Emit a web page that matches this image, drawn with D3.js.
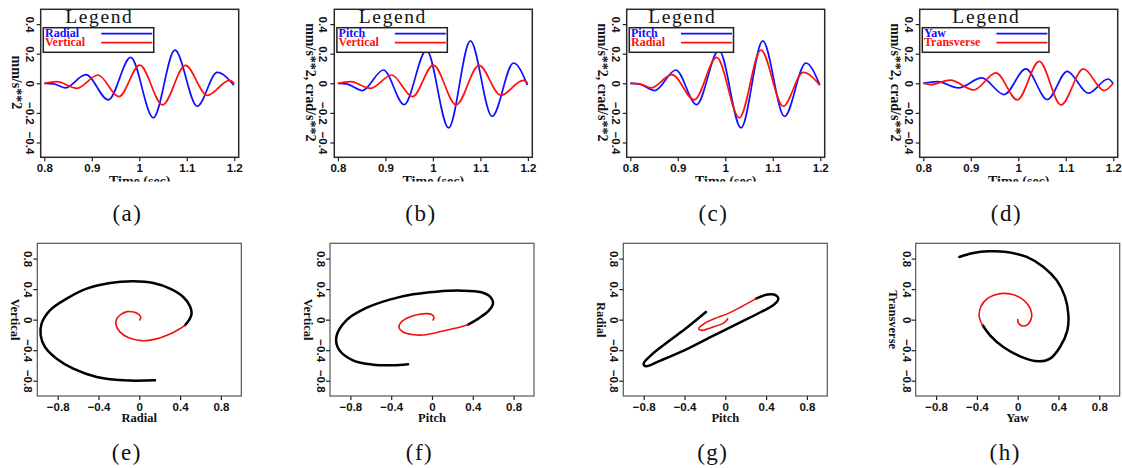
<!DOCTYPE html>
<html><head><meta charset="utf-8">
<script src="https://cdn.jsdelivr.net/npm/d3@7"></script>
<style>
body{margin:0;background:#fff;}
svg{display:block;}
</style></head><body>
<svg id="fig" width="1122" height="468"></svg>
<script>
// ---------- tick values and labels ----------
const timeTicks = [0.8, 0.9, 1.0, 1.1, 1.2];
const timeTickLabels = ["0.8", "0.9", "1", "1.1", "1.2"];
const ampTicks = [0.4, 0.2, 0, -0.2, -0.4];
const ampTickLabels = ["0.4", "0.2", "0", "\u22120.2", "\u22120.4"];
const hodoTicks = [-0.8, -0.4, 0, 0.4, 0.8];
const hodoTickLabels = ["\u22120.8", "\u22120.4", "0", "0.4", "0.8"];

// ---------- waveform samples: [time (s), amplitude] ----------
const radialTrace = [[0.8,0],[0.82,-0.004],[0.8435,-0.031],[0.8877,0.058],[0.9347,-0.112],[0.9818,0.175],[1.0295,-0.233],[1.075,0.224],[1.122,-0.155],[1.164,0.074],[1.199,-0.012]];
const verticalTrace = [[0.8,0],[0.826,0.011],[0.869,-0.034],[0.913,0.056],[0.957,-0.09],[1.001,0.123],[1.049,-0.146],[1.097,0.121],[1.143,-0.081],[1.19,0.02],[1.2,0]];
const pitchTrace = [[0.8,0],[0.82,-0.006],[0.8514,-0.049],[0.8958,0.09],[0.9394,-0.144],[0.9866,0.224],[1.0331,-0.301],[1.0789,0.287],[1.1246,-0.224],[1.1697,0.137],[1.199,-0.012]];
const yawTrace = [[0.8,0],[0.83,0.011],[0.874,-0.031],[0.923,0.036],[0.97,-0.076],[1.0158,0.097],[1.0613,-0.11],[1.103,0.081],[1.1475,-0.067],[1.189,0.029],[1.2,-0.003]];
const transverseTrace = [[0.8,0],[0.815,-0.009],[0.857,0.022],[0.906,-0.045],[0.953,0.07],[0.998,-0.112],[1.044,0.148],[1.09,-0.146],[1.137,0.097],[1.181,-0.049],[1.2,0]];

// ---------- particle-motion samples: [horizontal comp, vertical comp] ----------
// early part (red) then late part (black)
const radialVerticalEarly = [[0.003,-0.004],[0.015,0.03],[-0.005,0.07],[-0.055,0.1],[-0.12,0.105],[-0.18,0.07],[-0.222,0.01],[-0.228,-0.07],[-0.19,-0.16],[-0.11,-0.235],[0.02,-0.275],[0.16,-0.255],[0.29,-0.195],[0.39,-0.125],[0.448,-0.074]];
const radialVerticalLate = [[0.448,-0.074],[0.49,0],[0.513,0.079],[0.497,0.175],[0.431,0.297],[0.301,0.406],[0.137,0.48],[-0.059,0.502],[-0.288,0.48],[-0.516,0.406],[-0.712,0.275],[-0.876,0.122],[-0.958,-0.052],[-0.967,-0.205],[-0.925,-0.358],[-0.81,-0.511],[-0.647,-0.642],[-0.418,-0.751],[-0.157,-0.795],[0.154,-0.795]];
const pitchVerticalEarly = [[0.01,-0.005],[0.02,0.03],[-0.007,0.07],[-0.056,0.079],[-0.121,0.07],[-0.219,0.035],[-0.301,-0.031],[-0.324,-0.105],[-0.284,-0.162],[-0.186,-0.197],[-0.056,-0.197],[0.108,-0.148],[0.239,-0.109],[0.353,-0.066]];
const pitchVerticalLate = [[0.353,-0.066],[0.467,0.026],[0.559,0.122],[0.598,0.21],[0.572,0.297],[0.484,0.358],[0.288,0.38],[0.042,0.367],[-0.186,0.332],[-0.415,0.262],[-0.644,0.153],[-0.84,-0.009],[-0.938,-0.227],[-0.912,-0.393],[-0.775,-0.533],[-0.578,-0.59],[-0.382,-0.598],[-0.235,-0.585]];
const pitchRadialEarly = [[0.023,0.009],[0.007,-0.017],[-0.026,-0.052],[-0.141,-0.105],[-0.222,-0.14],[-0.261,-0.118],[-0.206,-0.052],[-0.108,0.013],[0.023,0.079],[0.154,0.166],[0.301,0.275]];
const pitchRadialLate = [[0.301,0.275],[0.415,0.328],[0.497,0.319],[0.52,0.275],[0.48,0.201],[0.35,0.1],[0.121,-0.052],[-0.141,-0.227],[-0.402,-0.402],[-0.631,-0.533],[-0.778,-0.611],[-0.801,-0.576],[-0.729,-0.467],[-0.565,-0.293],[-0.369,-0.096],[-0.19,0.1]];
const yawTransverseEarly = [[0,0],[0.007,-0.044],[0.039,-0.079],[0.088,-0.074],[0.127,-0.009],[0.137,0.079],[0.105,0.188],[0.039,0.275],[-0.059,0.332],[-0.173,0.341],[-0.288,0.284],[-0.363,0.166],[-0.376,0.035],[-0.343,-0.074]];
const yawTransverseLate = [[-0.343,-0.074],[-0.271,-0.205],[-0.141,-0.358],[0.023,-0.48],[0.203,-0.546],[0.317,-0.511],[0.415,-0.358],[0.487,-0.14],[0.497,0.057],[0.464,0.297],[0.382,0.515],[0.252,0.69],[0.088,0.821],[-0.108,0.886],[-0.288,0.895],[-0.435,0.873],[-0.572,0.821]];

// ---------- labels ----------
const traceLegends = [["Radial","Vertical"],["Pitch","Vertical"],["Pitch","Radial"],["Yaw","Transverse"]];
const traceYLabels = ["mm/s**2","mm/s**2, crad/s**2","mm/s**2, crad/s**2","mm/s**2, crad/s**2"];
const traceXLabel = "Time (sec)";
const hodoXLabels = ["Radial","Pitch","Pitch","Yaw"];
const hodoYLabels = ["Vertical","Vertical","Radial","Transverse"];
const topCaptions = ["(a)","(b)","(c)","(d)"];
const bottomCaptions = ["(e)","(f)","(g)","(h)"];

// ---------- drawing ----------
const svg = d3.select("#fig");
const defs = svg.append("defs");
const TICK_FONT = "'Liberation Sans', Arial, sans-serif";
const SERIF = "'Liberation Serif', 'Times New Roman', serif";

function rotateYTicks(axisG, offset) {
  axisG.selectAll(".tick text")
    .attr("x", null).attr("y", null).attr("dy", "0.35em")
    .attr("text-anchor", "middle")
    .attr("transform", `translate(${-offset},0) rotate(90)`);
}
function styleAxis(axisG) {
  axisG.select(".domain").remove();
  axisG.selectAll(".tick line").attr("stroke", "#222").attr("stroke-width", 1.2);
  axisG.selectAll(".tick text").attr("fill", "#111")
    .style("font-family", TICK_FONT).style("font-weight", "bold").style("font-size", "11.5px");
}

// --- top row: waveforms ---
const topLefts = [40.7, 334.3, 626.7, 919.7];
const TOP = {y: 9.3, w: 198, h: 148};
const tracePairs = [[radialTrace, verticalTrace],[pitchTrace, verticalTrace],[pitchTrace, radialTrace],[yawTrace, transverseTrace]];
const traceColors = ["#1010ff", "#ff1010"];

tracePairs.forEach((pair, i) => {
  const g = svg.append("g").attr("transform", `translate(${topLefts[i]},${TOP.y})`);
  const x = d3.scaleLinear().domain([0.7924, 1.2093]).range([0, TOP.w]);
  const y = d3.scaleLinear().domain([-0.5, 0.5]).range([TOP.h, 0]);
  const cid = "clipTop" + i;
  defs.append("clipPath").attr("id", cid).append("rect")
    .attr("x", 0).attr("y", 0).attr("width", TOP.w).attr("height", TOP.h);

  const line = d3.line().x(d => x(d[0])).y(d => y(d[1])).curve(d3.curveMonotoneX);
  pair.forEach((s, k) => {
    g.append("path").attr("d", line(s)).attr("fill", "none")
      .attr("stroke", traceColors[k]).attr("stroke-width", 1.7)
      .attr("clip-path", `url(#${cid})`);
  });

  g.append("rect").attr("width", TOP.w).attr("height", TOP.h)
    .attr("fill", "none").attr("stroke", "#2a2a2a").attr("stroke-width", 1.5);

  const xa = g.append("g").attr("transform", `translate(0,${TOP.h})`)
    .call(d3.axisBottom(x).tickValues(timeTicks).tickSize(4)
      .tickFormat((d, j) => timeTickLabels[j]));
  styleAxis(xa);
  const ya = g.append("g")
    .call(d3.axisLeft(y).tickValues(ampTicks).tickSize(4)
      .tickFormat((d, j) => ampTickLabels[j]));
  styleAxis(ya);
  rotateYTicks(ya, 11);

  // axis titles
  g.append("text")
    .attr("transform", `translate(-23.5,${TOP.h / 2 - 1}) rotate(90)`)
    .attr("text-anchor", "middle").attr("dy", "0.35em")
    .style("font-family", SERIF).style("font-weight", "bold").style("font-size", "14px")
    .attr("fill", "#111").text(traceYLabels[i]);
  const xcid = "clipXLab" + i;
  defs.append("clipPath").attr("id", xcid).append("rect")
    .attr("x", -20).attr("y", 0).attr("width", TOP.w + 40).attr("height", 172.3);
  g.append("text").attr("x", TOP.w / 2).attr("y", 176.7)
    .attr("text-anchor", "middle")
    .attr("clip-path", `url(#${xcid})`)
    .style("font-family", SERIF).style("font-weight", "bold").style("font-size", "14px")
    .attr("fill", "#111").text(traceXLabel);

  // legend
  const names = traceLegends[i];
  const lg = g.append("g");
  const boxX = 2.6, boxY = 18.4, boxH = 24.6;
  const texts = names.map((n, k) => lg.append("text")
    .attr("x", boxX + 1.7).attr("y", 27.8 + k * 9.4)
    .style("font-family", SERIF).style("font-weight", "bold").style("font-size", "12px")
    .attr("fill", traceColors[k]).text(n));
  const tw = d3.max(texts, t => t.node().getComputedTextLength());
  const lineX0 = boxX + 1.7 + tw + 16;
  const lineX1 = lineX0 + 51;
  names.forEach((n, k) => {
    lg.append("line").attr("x1", lineX0).attr("x2", lineX1)
      .attr("y1", 24.4 + k * 9).attr("y2", 24.4 + k * 9)
      .attr("stroke", traceColors[k]).attr("stroke-width", 1.7);
  });
  const boxW = lineX1 + 1.5 - boxX;
  lg.insert("rect", ":first-child").attr("x", boxX).attr("y", boxY)
    .attr("width", boxW).attr("height", boxH)
    .attr("fill", "#fff").attr("stroke", "#222").attr("stroke-width", 1.5);
  g.append("text").attr("x", boxX + boxW / 2 + 0.8).attr("y", 13.2)
    .attr("text-anchor", "middle")
    .style("font-family", SERIF).style("font-size", "19.5px").style("letter-spacing", "1.6px")
    .attr("fill", "#111").text("Legend");

  // caption
  svg.append("text").attr("x", topLefts[i] + 86.7).attr("y", 221)
    .attr("text-anchor", "middle")
    .style("font-family", SERIF).style("font-size", "23px").style("letter-spacing", "1.5px")
    .attr("fill", "#111").text(topCaptions[i]);
});

// --- bottom row: particle motion ---
const botLefts = [37.3, 330, 623.3, 915.7];
const BOT = {y: 243.3, w: 204, h: 152.7};
const hodoPairs = [[radialVerticalEarly, radialVerticalLate],[pitchVerticalEarly, pitchVerticalLate],[pitchRadialEarly, pitchRadialLate],[yawTransverseEarly, yawTransverseLate]];

hodoPairs.forEach((pair, i) => {
  const g = svg.append("g").attr("transform", `translate(${botLefts[i]},${BOT.y})`);
  const x = d3.scaleLinear().domain([-1, 1]).range([0, BOT.w]);
  const y = d3.scaleLinear().domain([-1, 1]).range([BOT.h, 0]);
  const line = d3.line().x(d => x(d[0])).y(d => y(d[1])).curve(d3.curveCatmullRom.alpha(0.5));

  g.append("path").attr("d", line(pair[1])).attr("fill", "none")
    .attr("stroke", "#000").attr("stroke-width", 2.5).attr("stroke-linecap", "round");
  g.append("path").attr("d", line(pair[0])).attr("fill", "none")
    .attr("stroke", "#f01010").attr("stroke-width", 1.6).attr("stroke-linecap", "round");

  g.append("rect").attr("width", BOT.w).attr("height", BOT.h)
    .attr("fill", "none").attr("stroke", "#555").attr("stroke-width", 1.2);

  const xa = g.append("g").attr("transform", `translate(0,${BOT.h})`)
    .call(d3.axisBottom(x).tickValues(hodoTicks).tickSize(4)
      .tickFormat((d, j) => hodoTickLabels[j]));
  styleAxis(xa);
  const ya = g.append("g")
    .call(d3.axisLeft(y).tickValues(hodoTicks).tickSize(4)
      .tickFormat((d, j) => hodoTickLabels[j]));
  styleAxis(ya);
  rotateYTicks(ya, 9);

  g.append("text").attr("x", BOT.w / 2).attr("y", 178.5)
    .attr("text-anchor", "middle")
    .style("font-family", SERIF).style("font-weight", "bold").style("font-size", "12.5px")
    .attr("fill", "#111").text(hodoXLabels[i]);
  g.append("text")
    .attr("transform", `translate(-22,${BOT.h / 2}) rotate(90)`)
    .attr("text-anchor", "middle").attr("dy", "0.35em")
    .style("font-family", SERIF).style("font-weight", "bold").style("font-size", "12.5px")
    .attr("fill", "#111").text(hodoYLabels[i]);

  svg.append("text").attr("x", botLefts[i] + 89.5).attr("y", 460)
    .attr("text-anchor", "middle")
    .style("font-family", SERIF).style("font-size", "23px").style("letter-spacing", "1.5px")
    .attr("fill", "#111").text(bottomCaptions[i]);
});
</script>
</body></html>
